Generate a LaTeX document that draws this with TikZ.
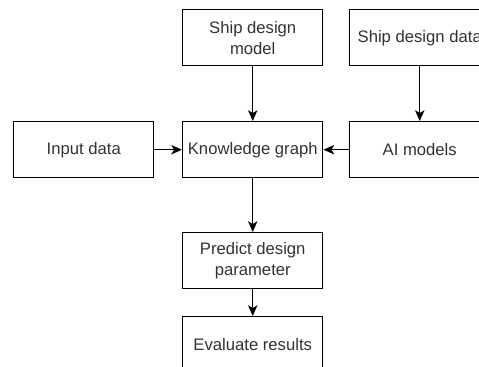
\documentclass[tikz,border=0pt]{standalone}
\usepackage{fontspec}
\setmainfont{Liberation Sans}
\usetikzlibrary{arrows.meta}
\definecolor{txt}{HTML}{333333}
\begin{document}
\begin{tikzpicture}[x=0.75pt,y=-0.75pt,
  box/.style={draw=black,line width=1.1pt,fill=white,minimum width=140*0.75pt,
    minimum height=56*0.75pt,inner sep=0pt,align=center,text=txt,
    font=\fontsize{12.5}{16}\selectfont,anchor=north west},
  flow/.style={line width=1.1pt,-{Stealth[length=8pt,width=7pt,inset=2pt]}}]
\useasboundingbox (0,0) rectangle (479,367);
\begin{scope}
\clip (0,0) rectangle (479,367);
\node[box] (sdm) at (182,9) {Ship design\\model};
\node[box] (sdd) at (349,9) {Ship design data};
\node[box] (inp) at (13,121) {Input data};
\node[box] (kg)  at (182,121) {Knowledge graph};
\node[box] (ai)  at (349,121) {AI models};
\node[box] (pdp) at (182,232) {Predict design\\parameter};
\node[box] (eval) at (182,316) {Evaluate results};
\draw[flow] (sdm) -- (kg);
\draw[flow] (sdd) -- (ai);
\draw[flow] (inp) -- (kg);
\draw[flow] (ai) -- (kg);
\draw[flow] (kg) -- (pdp);
\draw[flow] (pdp) -- (eval);
\end{scope}
\end{tikzpicture}
\end{document}
